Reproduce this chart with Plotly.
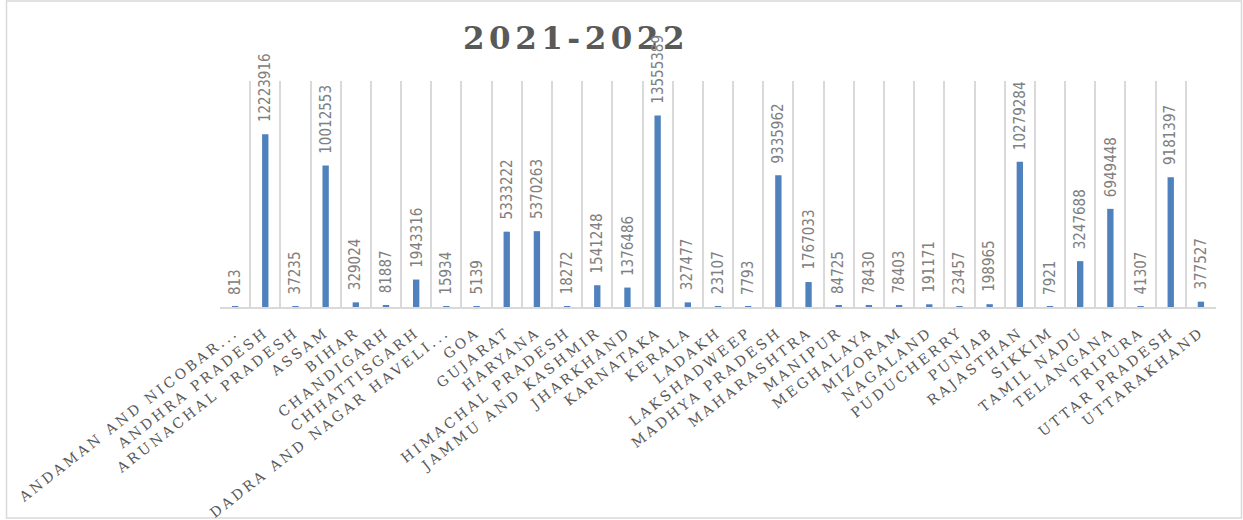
import plotly.graph_objects as go

states = [
    "ANDAMAN AND NICOBAR...", "ANDHRA PRADESH", "ARUNACHAL PRADESH", "ASSAM", "BIHAR",
    "CHANDIGARH", "CHHATTISGARH", "DADRA AND NAGAR HAVELI...", "GOA", "GUJARAT",
    "HARYANA", "HIMACHAL PRADESH", "JAMMU AND KASHMIR", "JHARKHAND", "KARNATAKA",
    "KERALA", "LADAKH", "LAKSHADWEEP", "MADHYA PRADESH", "MAHARASHTRA",
    "MANIPUR", "MEGHALAYA", "MIZORAM", "NAGALAND", "PUDUCHERRY",
    "PUNJAB", "RAJASTHAN", "SIKKIM", "TAMIL NADU", "TELANGANA",
    "TRIPURA", "UTTAR PRADESH", "UTTARAKHAND",
]
values = [
    813, 12223916, 37235, 10012553, 329024,
    81887, 1943316, 15934, 5139, 5333222,
    5370263, 18272, 1541248, 1376486, 13555389,
    327477, 23107, 7793, 9335962, 1767033,
    84725, 78430, 78403, 191171, 23457,
    198965, 10279284, 7921, 3247688, 6949448,
    41307, 9181397, 377527,
]
title_text = "2021-2022"

BAR = "#4F81BD"
GRID = "#D9D9D9"
LABEL = "#808080"
AXIS_TXT = "#595959"

fig = go.Figure()
fig.add_trace(go.Bar(x=states, y=values, marker_color=BAR, marker_line_width=0,
                     hoverinfo="x+y"))

annotations = []
for s, v in zip(states, values):
    annotations.append(dict(
        x=s, y=v, xref="x", yref="y", text=str(v), showarrow=False,
        textangle=-90, xanchor="center", yanchor="bottom", yshift=10,
        font=dict(family="DejaVu Sans Condensed, Liberation Sans Narrow, DejaVu Sans", size=15, color=LABEL),
    ))

# plot area in px: x 220..1216, y 81..307
L, R, T, B = 220, 1216, 81, 307
W, H = R - L, B - T
def px_x(p):
    return (p - L) / W
def px_y(p):
    return (B - p) / H

fig.update_layout(
    width=1243, height=520,
    margin=dict(l=L, r=1243 - R, t=T, b=520 - B),
    paper_bgcolor="white", plot_bgcolor="white",
    bargap=0.79,
    showlegend=False,
    title=dict(text=title_text, x=576 / 1243, xref="container", xanchor="center",
               y=1 - 38 / 520, yref="container", yanchor="middle",
               font=dict(family="DejaVu Serif", size=31, color=AXIS_TXT, weight="bold")),
    xaxis=dict(type="category", tickson="boundaries", showgrid=True, gridcolor=GRID, gridwidth=1.5,
               showline=True, linecolor=GRID, linewidth=1.5, ticks="", tickangle=-38,
               ticklabelstandoff=10,
               tickfont=dict(family="DejaVu Serif", size=14, color=AXIS_TXT),
               automargin=False),
    yaxis=dict(range=[0, 16000000], showgrid=False, zeroline=False, showticklabels=False,
               showline=False, ticks=""),
    annotations=annotations,
    shapes=[dict(type="rect", xref="paper", yref="paper",
                 x0=px_x(6.5), x1=px_x(1241.5), y0=px_y(518), y1=px_y(1),
                 line=dict(color=GRID, width=1.5), fillcolor="rgba(0,0,0,0)", layer="below")],
)

post = """
document.body.style.margin = '0';
document.querySelectorAll('.xtick text').forEach(function(t){ t.style.letterSpacing = '3px'; });
document.querySelectorAll('.gtitle').forEach(function(t){ t.style.letterSpacing = '4.5px'; });
"""

fig.write_html("out.html", post_script=post, config={"displayModeBar": False})
